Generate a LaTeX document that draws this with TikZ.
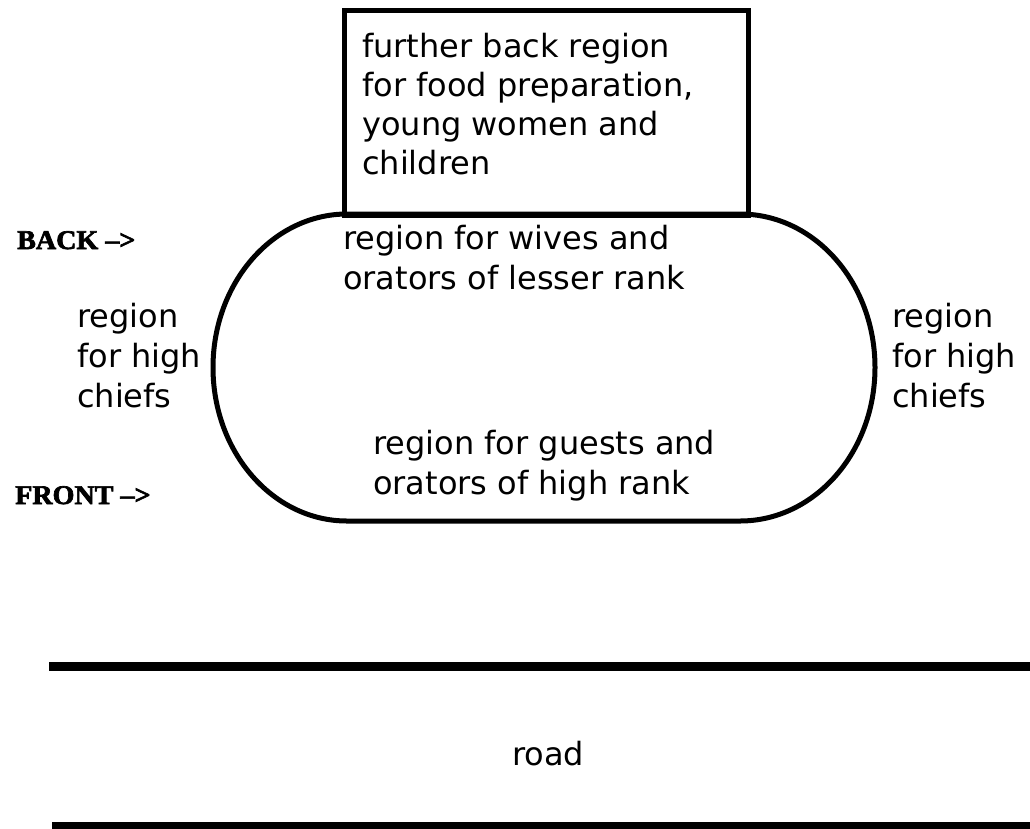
\documentclass[tikz,border=0pt]{standalone}
\usepackage{fontspec}
\setmainfont{DejaVu Sans}
\newfontfamily\labfont[FakeBold=2.5,FakeStretch=1.04]{Liberation Serif}
\begin{document}
\begin{tikzpicture}[x=1pt,y=-1pt,
  txt/.style={font=\fontsize{32}{40}\selectfont, anchor=base west, inner sep=0pt},
  lab/.style={font=\labfont\bfseries\fontsize{27}{32}\selectfont, anchor=base west, inner sep=0pt},
  wall/.style={draw=black, line width=5pt},
  roadline/.style={draw=black, line width=9pt}]
\useasboundingbox[fill=white] (0,0) rectangle (1030,828);
% back box
\node[wall, rectangle, minimum width=403.5pt, minimum height=205.5pt, inner sep=0pt, anchor=north west] (box) at (342,7.5) {};
% oval meeting area
\draw[line width=5pt, line join=round]
  (740,214) .. controls (814.6,214) and (875,282.7) .. (875,367.5)
  .. controls (875,452.3) and (814.6,521) .. (740,521)
  -- (347,521)
  .. controls (273,521) and (213,452.3) .. (213,367.5)
  .. controls (213,282.7) and (273,214) .. (347,214) -- cycle;
% road
\coordinate (r1a) at (49,666);
\coordinate (r1b) at (1030,666);
\coordinate (r2a) at (52,825.5);
\coordinate (r2b) at (1030,825.5);
\draw[roadline] (r1a) -- (r1b);
\draw[roadline, line width=7pt] (r2a) -- (r2b);
% box text
\node[txt] (f1) at (362,57) {further back region};
\node[txt] (f2) at (362,96) {for food preparation,};
\node[txt] (f3) at (362,135) {young women and};
\node[txt] (f4) at (362,174) {children};
% inner texts
\node[txt] (w1) at (343,249) {region for wives and};
\node[txt] (w2) at (343,289) {orators of lesser rank};
\node[txt] (g1) at (373,454) {region for guests and};
\node[txt] (g2) at (373,494) {orators of high rank};
% sides
\node[txt] (l1) at (77,327) {region};
\node[txt] (l2) at (77,367) {for high};
\node[txt] (l3) at (77,407) {chiefs};
\node[txt] (q1) at (892,327) {region};
\node[txt] (q2) at (892,367) {for high};
\node[txt] (q3) at (892,407) {chiefs};
% labels
\node[lab] (back) at (17,249) {BACK –>};
\node[lab] (front) at (15,504) {FRONT –>};
\node[txt] (road) at (512,765) {road};
\end{tikzpicture}
\end{document}
